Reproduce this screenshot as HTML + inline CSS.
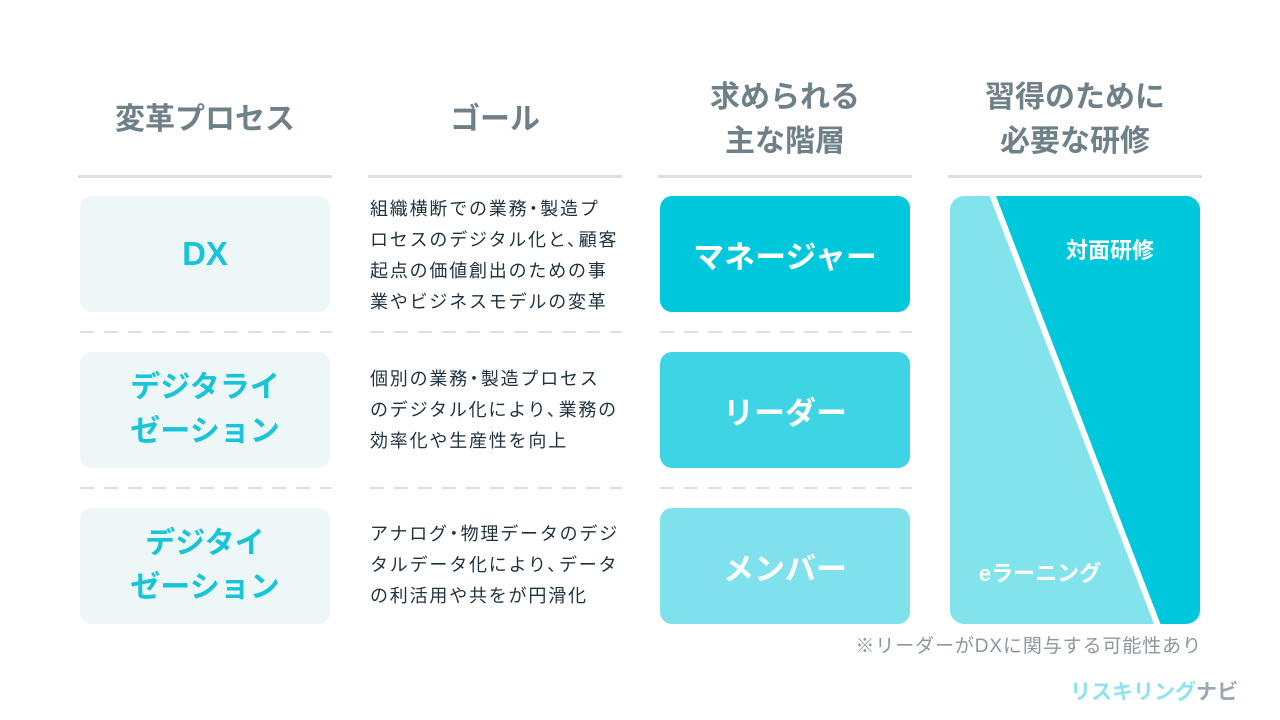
<!DOCTYPE html>
<html><head><meta charset="utf-8"><style>
*{margin:0;padding:0;box-sizing:border-box}
body{width:1280px;height:720px;background:#fff;position:relative;overflow:hidden;font-family:"Liberation Sans","Noto Sans CJK JP",sans-serif}
.a{position:absolute}
.h{color:#6f8188;font-weight:bold;font-size:30px;text-align:center;line-height:44px;display:flex;align-items:center;justify-content:center;height:90px;top:75px}
.ul{height:3px;background:#d9e0e2;top:175px}
.dash{height:2px;top:331px;background:repeating-linear-gradient(90deg,#d9e0e2 0 14px,transparent 14px 24px)}
.lb{background:#eef7f7;border-radius:12px;left:80px;width:250px;height:116px;color:#19c3d8;font-weight:bold;font-size:30px;line-height:44px;display:flex;align-items:center;justify-content:center;text-align:center}
.t{left:370px;width:280px;color:#1f3240;font-size:18px;line-height:31px;letter-spacing:1.8px;white-space:nowrap}
.rb{left:660px;width:250px;height:116px;border-radius:12px;color:#fff;font-weight:bold;font-size:31px;display:flex;align-items:center;justify-content:center}
</style></head><body>
<div class="a h" style="left:80px;width:250px">変革プロセス</div>
<div class="a h" style="left:370px;width:250px">ゴール</div>
<div class="a h" style="left:660px;width:250px">求められる<br>主な階層</div>
<div class="a h" style="left:950px;width:250px">習得のために<br>必要な研修</div>
<div class="a ul" style="left:78px;width:254px"></div>
<div class="a ul" style="left:368px;width:254px"></div>
<div class="a ul" style="left:658px;width:254px"></div>
<div class="a ul" style="left:948px;width:254px"></div>

<div class="a dash" style="left:80px;width:252px"></div>
<div class="a dash" style="left:370px;width:252px"></div>
<div class="a dash" style="left:660px;width:252px"></div>
<div class="a dash" style="left:80px;width:252px;top:487px"></div>
<div class="a dash" style="left:370px;width:252px;top:487px"></div>
<div class="a dash" style="left:660px;width:252px;top:487px"></div>

<div class="a lb" style="top:196px;font-size:33px">DX</div>
<div class="a lb" style="top:352px">デジタライ<br>ゼーション</div>
<div class="a lb" style="top:508px">デジタイ<br>ゼーション</div>

<div class="a t" style="top:194px">組織横断での業務<span style="margin:0 -4px">・</span>製造プ<br>ロセスのデジタル化と<span style="margin-right:-8px">、</span>顧客<br>起点の価値創出のための事<br>業やビジネスモデルの変革</div>
<div class="a t" style="top:364px">個別の業務<span style="margin:0 -4px">・</span>製造プロセス<br>のデジタル化により<span style="margin-right:-8px">、</span>業務の<br>効率化や生産性を向上</div>
<div class="a t" style="top:519px">アナログ<span style="margin:0 -4px">・</span>物理データのデジ<br>タルデータ化により<span style="margin-right:-8px">、</span>データ<br>の利活用や共をが円滑化</div>

<div class="a rb" style="top:196px;background:#00c8dc">マネージャー</div>
<div class="a rb" style="top:352px;background:#3fd4e3">リーダー</div>
<div class="a rb" style="top:508px;background:#7fe1ec">メンバー</div>

<svg class="a" style="left:950px;top:196px" width="250" height="428">
<defs><clipPath id="c"><rect width="250" height="428" rx="14"/></clipPath></defs>
<g clip-path="url(#c)">
<rect width="250" height="428" fill="#82e3ed"/>
<polygon points="44,0 250,0 250,428 210,428" fill="#00c8dc"/>
<line x1="42" y1="-2" x2="208" y2="430" stroke="#fff" stroke-width="6"/>
</g>
<text x="160" y="62" fill="#fff" font-size="22" font-weight="bold" text-anchor="middle" font-family="Liberation Sans,Noto Sans CJK JP,sans-serif">対面研修</text>
<text x="90" y="385" fill="#fff" font-size="22" font-weight="bold" text-anchor="middle" font-family="Liberation Sans,Noto Sans CJK JP,sans-serif">eラーニング</text>
</svg>
<div class="a" style="left:800px;top:631px;width:402px;text-align:right;color:#8a989d;font-size:19px;letter-spacing:0.9px;white-space:nowrap">※リーダーがDXに関与する可能性あり</div>
<div class="a" style="left:1070px;top:676px;font-size:21px;font-weight:bold;color:#8fe3ee;white-space:nowrap">リスキリング<span style="color:#9aa7ad">ナビ</span></div>
</body></html>
